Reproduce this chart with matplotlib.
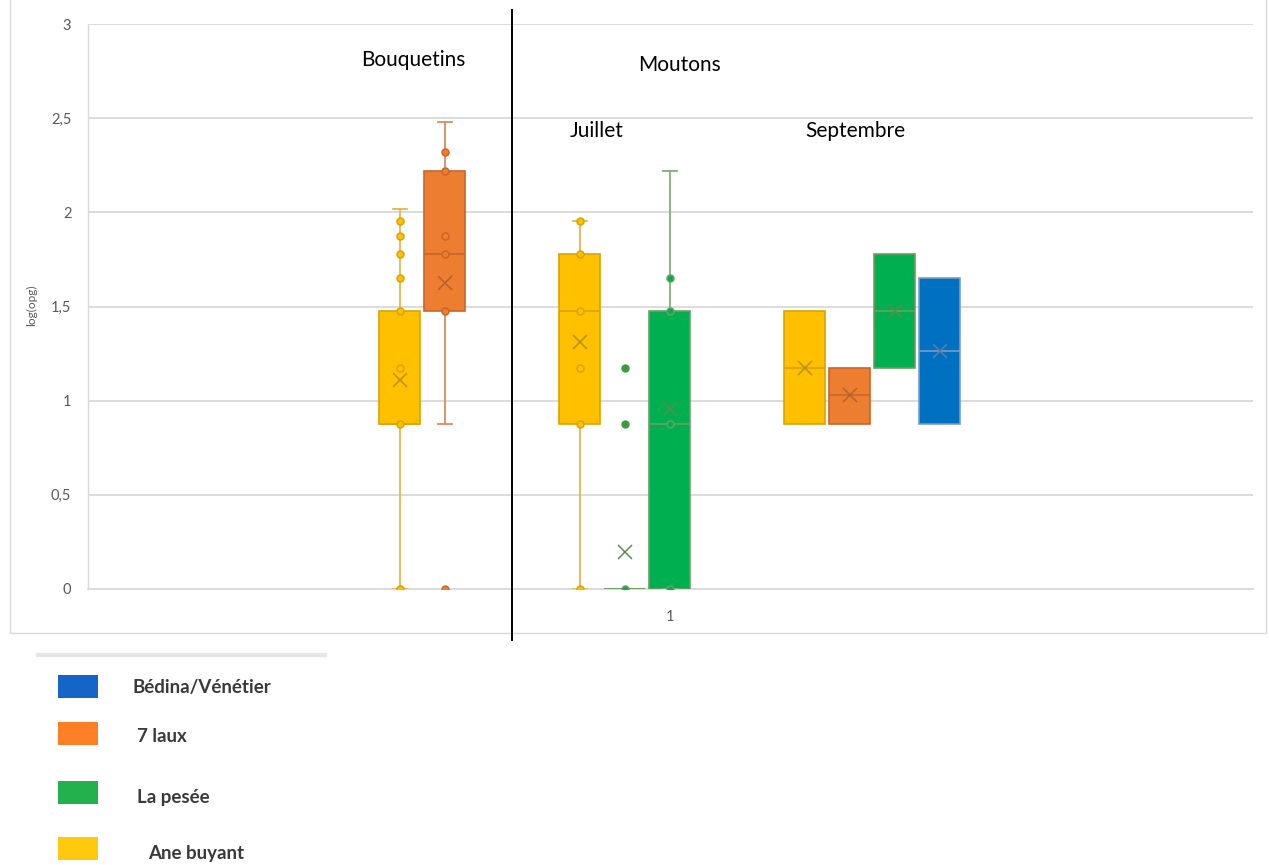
import matplotlib
matplotlib.use("Agg")
import matplotlib.pyplot as plt
from matplotlib.lines import Line2D
from matplotlib.patches import Rectangle

plt.rcParams['font.family'] = ['Lato', 'DejaVu Sans']

W, H = 1269, 865

# box slots (one slot = one series width), category "1" is slot 0
positions = [-6, -5, -2, -1, 0, 3, 4, 5, 6]
q1 = [0.875, 1.477, 0.875, 0.0, 0.0, 0.875, 0.875, 1.176, 0.875]
med = [0.875, 1.778, 1.477, 0.0, 0.875, 1.176, 1.028, 1.477, 1.264]
q3 = [1.477, 2.217, 1.778, 0.0, 1.477, 1.477, 1.176, 1.778, 1.653]
whislo = [0.0, 0.875, 0.0, 0.0, 0.0, 0.875, 0.875, 1.176, 0.875]
whishi = [2.017, 2.477, 1.954, 0.0, 2.217, 1.477, 1.176, 1.778, 1.653]
means = [1.11, 1.626, 1.313, 0.195, 0.957, 1.176, 1.028, 1.477, 1.264]
fliers = [[], [0.0], [], [0.875, 1.176], [], [], [], [], []]
inner_points = [
    [0.0, 0.875, 1.176, 1.477, 1.653, 1.778, 1.875, 1.954],
    [1.477, 1.778, 1.875, 2.217, 2.322],
    [0.0, 0.875, 1.176, 1.477, 1.778, 1.954],
    [0.0],
    [0.0, 0.875, 1.477, 1.653],
    [], [], [], [],
]
has_whiskers = [True, True, True, False, True, False, False, False, False]
series_of_box = ['ane', 'laux', 'ane', 'pesee', 'pesee', 'ane', 'laux', 'pesee', 'bedina']

# fill, edge, whisker, mean marker
palette = {
    'ane': ('#FFC000', '#D9A400', '#E3B94E', '#B8901A'),
    'laux': ('#ED7D31', '#C96628', '#E08A5C', '#B5602E'),
    'pesee': ('#00B050', '#6E9E62', '#86AD78', '#5B8C4E'),
    'bedina': ('#0070C0', '#7D9CC6', '#7D9CC6', '#5D7DA8'),
}

legend_labels = ['Bédina/Vénétier', '7 laux', 'La pesée', 'Ane buyant']
legend_colors = ['#1565C8', '#FF7F27', '#22B14C', '#FFC90E']

y_ticks = [0, 0.5, 1, 1.5, 2, 2.5, 3]
y_tick_labels = ['0', '0,5', '1', '1,5', '2', '2,5', '3']


def fx(px):
    return px / W


def fy(py):
    return 1 - py / H


fig = plt.figure(figsize=(W / 100, H / 100), dpi=100)
ax = fig.add_axes([fx(88), fy(589), 1165 / W, 565 / H])

stats = []
for i in range(len(positions)):
    stats.append(dict(q1=q1[i], med=med[i], q3=q3[i], whislo=whislo[i],
                      whishi=whishi[i], mean=means[i], fliers=fliers[i]))

art = ax.bxp(stats, positions=positions, widths=0.91, patch_artist=True,
             showmeans=True, showfliers=True, capwidths=0.3, zorder=3)

for i, key in enumerate(series_of_box):
    fill, edge, whisk, mcol = palette[key]
    box = art['boxes'][i]
    box.set_facecolor(fill)
    box.set_edgecolor(edge)
    box.set_linewidth(1.2)
    art['medians'][i].set_color(edge)
    art['medians'][i].set_linewidth(1.2)
    for ln in art['whiskers'][2 * i:2 * i + 2] + art['caps'][2 * i:2 * i + 2]:
        ln.set_color(whisk)
        ln.set_linewidth(1.3)
        ln.set_visible(has_whiskers[i])
    mn = art['means'][i]
    mn.set_marker('x')
    mn.set_markersize(10)
    mn.set_markeredgecolor(mcol)
    mn.set_markeredgewidth(1.1)
    fl = art['fliers'][i]
    fl.set_marker('o')
    fl.set_markersize(5)
    fl.set_markerfacecolor(fill if key != 'pesee' else '#3E9A3E')
    fl.set_markeredgecolor(edge if key != 'pesee' else '#3E9A3E')
    # individual values drawn along the whisker / inside the box
    pts = inner_points[i]
    if pts:
        ax.plot([positions[i]] * len(pts), pts, linestyle='none', marker='o',
                markersize=5, markerfacecolor=fill, markeredgecolor=edge,
                markeredgewidth=1.1, zorder=4)

ax.set_xlim(-12.93, 12.96)
ax.set_ylim(0, 3)
ax.set_yticks(y_ticks)
ax.set_yticklabels(y_tick_labels)
ax.set_xticks([0])
ax.set_xticklabels(['1'])
ax.tick_params(axis='both', length=0, labelsize=10.5, labelcolor='#595959')
ax.tick_params(axis='y', pad=12)
ax.tick_params(axis='x', pad=15)
ax.grid(axis='y', color='#D9D9D9', linewidth=1.3, zorder=0)
ax.set_axisbelow(True)
for side in ['top', 'right']:
    ax.spines[side].set_visible(False)
ax.spines['left'].set_color('#D9D9D9')
ax.spines['bottom'].set_color('#D9D9D9')
ax.spines['left'].set_linewidth(1.0)
ax.spines['bottom'].set_linewidth(1.3)

ax.text(-5.69, 2.81, 'Bouquetins', ha='center', va='center', fontsize=15)
ax.text(0.22, 2.78, 'Moutons', ha='center', va='center', fontsize=15)
ax.text(-1.62, 2.43, 'Juillet', ha='center', va='center', fontsize=15)
ax.text(4.13, 2.43, 'Septembre', ha='center', va='center', fontsize=15)

fig.text(fx(32), fy(305), 'log(opg)', rotation=90, ha='center', va='center',
         fontsize=8.5, color='#595959')

# chart area frame
fig.add_artist(Rectangle((fx(10), fy(633)), fx(1256), 633 / H + 0.01, fill=False,
                         edgecolor='#D9D9D9', linewidth=1.0))
# separator between the two animal groups
fig.add_artist(Line2D([fx(512), fx(512)], [fy(10), fy(640)], color='black',
                      linewidth=1.4))

# legend block under the chart
fig.add_artist(Line2D([fx(38), fx(325)], [fy(655), fy(655)], color='#E6E6E6',
                      linewidth=3))
leg_rect_y = [675, 722, 781, 837]
leg_text_x = [132, 137, 137, 148]
leg_text_y = [688, 736, 798, 853]
for lab, col, ry, tx, ty in zip(legend_labels, legend_colors, leg_rect_y,
                                leg_text_x, leg_text_y):
    fig.add_artist(Rectangle((fx(58), fy(ry + 23)), 40 / W, 23 / H,
                             facecolor=col, edgecolor='none'))
    fig.text(fx(tx), fy(ty), lab, ha='left', va='center', fontsize=13.5,
             fontweight='bold', color='#3A3A3A')

fig.savefig('out.png', dpi=100, facecolor='white')
